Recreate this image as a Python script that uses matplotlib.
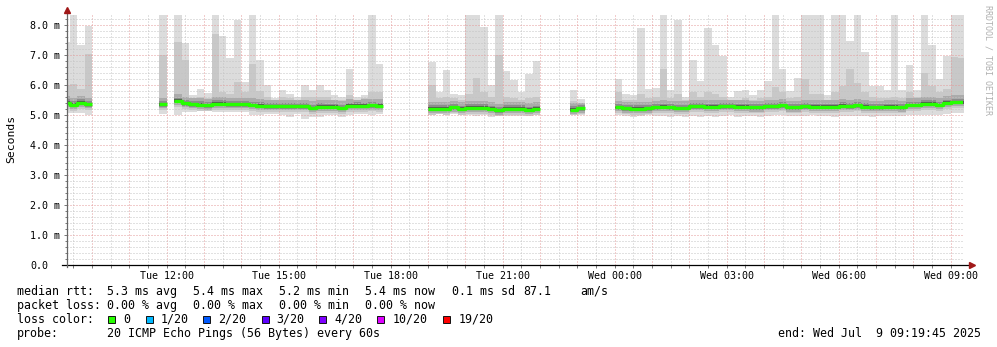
import numpy as np
import matplotlib.pyplot as plt
from matplotlib.patches import Rectangle

# time in hours since Tue 00:00, one smoke column = 12 min
t_end = 33 + 19.75 / 60          # Wed 09:19:45
t_start = t_end - 24
col_w = 0.2

seg_start = [9.2, 11.8, 19.0, 22.8, 24.0]

# values in ms, one list per segment of data
rtt_max = [
    [7.42, 8.31, 7.31, 7.94],
    [8.31, np.nan, 8.31, 7.37, 5.64, 5.84, 5.72, 8.31, 7.61, 6.87, 8.14, 6.09, 8.31, 6.81, 6.00,
     5.55, 5.81, 5.70, 5.59, 6.00, 5.81, 6.00, 5.81, 5.64, 5.59, 6.53, 5.59, 5.67, 8.31, 6.67],
    [6.76, 5.76, 6.48, 5.70, 5.67, 8.31, 8.31, 7.92, 6.00, 8.31, 6.44, 6.14, 5.76, 6.34, 6.79],
    [5.83, 5.53],
    [6.18, 5.68, 5.64, 7.87, 5.87, 5.90, 8.31, 5.83, 8.14, 5.59, 6.81, 6.11, 7.87, 7.31, 6.94, 5.59,
     5.78, 5.81, 5.64, 5.83, 6.11, 8.31, 6.53, 5.79, 6.23, 8.31, 8.31, 8.31, 5.64, 8.31, 8.31, 7.46,
     8.31, 7.09, 5.94, 5.97, 5.81, 8.31, 5.81, 6.64, 5.83, 8.31, 7.31, 6.20, 6.94, 8.31, 8.31],
]
rtt_hi = [
    [6.00, 6.03, 5.87, 7.03],
    [7.00, np.nan, 7.42, 6.81, 5.55, 5.60, 5.55, 7.70, 5.75, 5.70, 6.10, 5.75, 6.70, 5.80, 5.60,
     5.50, 5.60, 5.55, 5.50, 5.60, 5.60, 5.60, 5.60, 5.50, 5.50, 5.65, 5.50, 5.55, 5.75, 5.75],
    [6.00, 5.55, 5.60, 5.55, 5.50, 5.70, 6.23, 5.75, 5.60, 6.98, 5.60, 5.55, 5.50, 5.55, 5.60],
    [5.45, 5.40],
    [5.75, 5.50, 5.50, 5.70, 5.55, 5.60, 6.53, 5.55, 5.70, 5.50, 5.75, 5.60, 5.75, 5.70, 5.60, 5.50,
     5.50, 5.55, 5.50, 5.55, 5.60, 5.92, 5.75, 5.55, 5.60, 6.18, 5.70, 5.70, 5.50, 5.75, 5.95, 6.51,
     6.05, 5.75, 5.60, 5.55, 5.55, 5.60, 5.55, 5.75, 5.60, 6.40, 5.95, 5.75, 5.85, 6.92, 6.90],
]
rtt_median = [
    [5.40, 5.33, 5.40, 5.35],
    [5.35, np.nan, 5.46, 5.38, 5.35, 5.33, 5.31, 5.37, 5.37, 5.35, 5.35, 5.35, 5.32, 5.30, 5.28,
     5.28, 5.28, 5.28, 5.28, 5.28, 5.22, 5.27, 5.26, 5.26, 5.22, 5.29, 5.30, 5.29, 5.31, 5.29],
    [5.20, 5.20, 5.20, 5.24, 5.19, 5.23, 5.23, 5.23, 5.19, 5.14, 5.20, 5.20, 5.20, 5.16, 5.19],
    [5.17, 5.21],
    [5.25, 5.21, 5.20, 5.20, 5.21, 5.25, 5.26, 5.25, 5.22, 5.22, 5.28, 5.28, 5.26, 5.26, 5.28, 5.28,
     5.26, 5.26, 5.24, 5.24, 5.28, 5.28, 5.31, 5.24, 5.24, 5.28, 5.26, 5.26, 5.26, 5.26, 5.30, 5.28,
     5.31, 5.27, 5.25, 5.25, 5.26, 5.26, 5.24, 5.32, 5.32, 5.37, 5.37, 5.32, 5.39, 5.42, 5.42],
]
rtt_min = [
    [5.05, 5.05, 5.05, 5.00],
    [5.03, np.nan, 4.98, 5.09, 5.09, 5.12, 5.12, 5.09, 5.09, 5.09, 5.09, 5.09, 4.98, 4.98, 5.03,
     5.03, 4.98, 4.92, 5.03, 4.87, 4.92, 4.92, 4.98, 4.98, 4.92, 4.98, 5.03, 5.03, 4.98, 5.03],
    [5.00, 5.03, 4.98, 5.03, 5.00, 5.00, 4.95, 5.00, 4.92, 4.95, 4.95, 4.95, 4.97, 4.95, 5.00],
    [4.98, 5.00],
    [4.98, 4.95, 4.92, 4.95, 4.98, 4.97, 4.95, 4.92, 4.95, 4.92, 4.95, 4.92, 4.95, 4.92, 4.95, 4.98,
     4.92, 4.95, 4.97, 4.92, 4.95, 5.00, 4.98, 4.95, 4.95, 4.95, 4.98, 4.95, 4.97, 4.92, 4.95, 4.95,
     4.97, 4.95, 4.92, 4.95, 4.97, 4.95, 4.97, 5.00, 5.00, 4.98, 5.00, 5.00, 5.02, 5.05, 5.05],
]

y_ticks = [0, 1, 2, 3, 4, 5, 6, 7, 8]
y_labels = ["0.0", "1.0 m", "2.0 m", "3.0 m", "4.0 m", "5.0 m", "6.0 m", "7.0 m", "8.0 m"]
x_ticks = [12, 15, 18, 21, 24, 27, 30, 33]
x_labels = ["Tue 12:00", "Tue 15:00", "Tue 18:00", "Tue 21:00",
            "Wed 00:00", "Wed 03:00", "Wed 06:00", "Wed 09:00"]

loss_labels = ["0", "1/20", "2/20", "3/20", "4/20", "10/20", "19/20"]
loss_colors = ["#26ff00", "#00b8ff", "#0059ff", "#5e00ff", "#7e00ff", "#dd00ff", "#ff0000"]

W, H = 997, 347
MONO = "DejaVu Sans Mono"


def fx(px):
    return px / W


def fy(py):
    return 1 - py / H


def steps(start, vals):
    v = np.asarray(vals, float)
    left = start + col_w * np.arange(len(v))
    xs = np.column_stack([left, left + col_w]).ravel()
    return xs, np.repeat(v, 2)


fig = plt.figure(figsize=(W / 100, H / 100), dpi=100)
fig.patch.set_facecolor("white")
ax = fig.add_axes([fx(67), 82 / H, 896 / W, 251 / H])
ax.set_xlim(t_start, t_end)
ax.set_ylim(0, 251 / 30.06)

# smoke
for s, mx, hi, md, mn in zip(seg_start, rtt_max, rtt_hi, rtt_median, rtt_min):
    xs, ymax = steps(s, mx)
    _, yhi = steps(s, hi)
    _, ymed = steps(s, md)
    _, ymin = steps(s, mn)
    ax.fill_between(xs, ymin, ymax, color="#dcdcdc", lw=0, zorder=1)
    ax.fill_between(xs, np.maximum(ymed - 0.2, ymin), yhi, color="#c8c8c8", lw=0, zorder=1)
    ax.fill_between(xs, np.maximum(ymed - 0.14, ymin), np.minimum(ymed + 0.22, yhi),
                    color="#ababab", lw=0, zorder=1)
    ax.fill_between(xs, ymed - 0.08, ymed + 0.11, color="#8c8c8c", lw=0, zorder=1)
    ax.fill_between(xs, ymed - 0.05, ymed + 0.05, color="#555555", lw=0, zorder=1)
    ax.plot(xs, ymed, color=loss_colors[0], lw=2.4, solid_capstyle="butt", zorder=4)

# grid
dot = (0, (1, 2))
for h in np.arange(9.5, 33.5, 0.5):
    if t_start < h < t_end:
        major = float(h).is_integer()
        ax.axvline(h, color="#e49a9a" if major else "#c4c4c4", lw=0.72, ls=dot, zorder=2)
for v in np.arange(0.2, 8.4, 0.2):
    major = abs(v - round(v)) < 1e-6
    ax.axhline(v, color="#e49a9a" if major else "#c4c4c4", lw=0.72, ls=dot, zorder=2)

# axes
for side in ["top", "right", "left", "bottom"]:
    ax.spines[side].set_visible(False)
ax.plot([-0.006, 1.008], [0, 0], transform=ax.transAxes, color="black", lw=0.9,
        clip_on=False, zorder=5)
ax.plot([0, 0], [-0.008, 1.01], transform=ax.transAxes, color="#666666", lw=0.9,
        clip_on=False, zorder=5)
ax.plot([1.0095], [0], marker=">", ms=4.2, color="#a01818", transform=ax.transAxes,
        clip_on=False, zorder=6)
ax.plot([0], [1.014], marker="^", ms=4.2, color="#a01818", transform=ax.transAxes,
        clip_on=False, zorder=6)

ax.set_xticks(x_ticks)
ax.set_xticklabels(x_labels, fontfamily=MONO, fontsize=7.2)
ax.set_xticks(np.arange(9.5, 33.5, 0.5), minor=True)
ax.tick_params(axis="x", which="major", length=2, width=0.7, color="#777777", pad=2.2)
ax.tick_params(axis="x", which="minor", length=2, width=0.7, color="#777777")
ax.set_yticks(y_ticks)
ax.set_yticklabels(y_labels, fontfamily=MONO, fontsize=7.2, ha="left")
ax.set_yticks(np.arange(0.2, 8.4, 0.2), minor=True)
ax.tick_params(axis="y", which="major", length=2.2, width=0.7, color="#777777", pad=24.5)
ax.tick_params(axis="y", which="minor", length=1.4, width=0.7, color="#777777")

fig.text(fx(11), fy(139), "Seconds", rotation=90, ha="center", va="center",
         fontfamily=MONO, fontsize=8.2)
fig.text(fx(988), fy(60), "RRDTOOL / TOBI OETIKER", rotation=270, ha="center", va="center",
         fontfamily=MONO, fontsize=6, color="#b0b0b0")

# legend
FS = 8.4
row1 = [(16.7, "median rtt:"), (107.3, "5.3 ms avg"), (193.3, "5.4 ms max"),
        (279.3, "5.2 ms min"), (365, "5.4 ms now"), (451.7, "0.1 ms sd"),
        (523.3, "87.1"), (580, "am/s")]
row2 = [(16.7, "packet loss:"), (107.3, "0.00 % avg"), (193.3, "0.00 % max"),
        (279.3, "0.00 % min"), (365, "0.00 % now")]
for x, s in row1:
    fig.text(fx(x), fy(291.5), s, fontfamily=MONO, fontsize=FS, va="center")
for x, s in row2:
    fig.text(fx(x), fy(305.3), s, fontfamily=MONO, fontsize=FS, va="center")
fig.text(fx(16.7), fy(319.3), "loss color:", fontfamily=MONO, fontsize=FS, va="center")
sq_x = [108.3, 146, 203.3, 261.7, 319.3, 377.3, 443.3]
for x, lab, c in zip(sq_x, loss_labels, loss_colors):
    fig.patches.append(Rectangle((fx(x), fy(323.3)), 7 / W, 7 / H, transform=fig.transFigure,
                                 facecolor=c, edgecolor="#111111", lw=0.7))
    fig.text(fx(x + 15), fy(319.3), lab, fontfamily=MONO, fontsize=FS, va="center")
fig.text(fx(16.7), fy(333.3), "probe:", fontfamily=MONO, fontsize=FS, va="center")
fig.text(fx(107.3), fy(333.3), "20 ICMP Echo Pings (56 Bytes) every 60s",
         fontfamily=MONO, fontsize=FS, va="center")
fig.text(fx(981), fy(333.3), "end: Wed Jul  9 09:19:45 2025", fontfamily=MONO,
         fontsize=FS, va="center", ha="right")

fig.savefig("out.png", dpi=100, facecolor="white")
